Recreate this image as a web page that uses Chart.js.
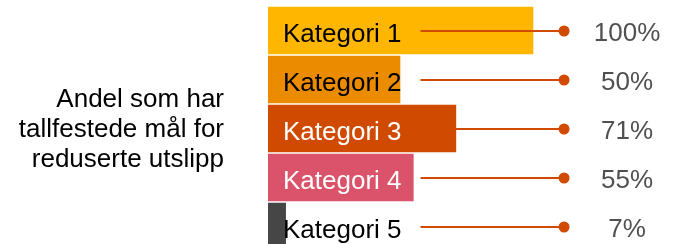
<!DOCTYPE html>
<html>
<head>
<meta charset="utf-8">
<script src="https://cdn.jsdelivr.net/npm/chart.js@4"></script>
<style>
  html, body { margin: 0; padding: 0; background: #fff; overflow: hidden; }
</style>
</head>
<body>
<canvas id="chart" width="673" height="251"></canvas>
<script>
  const categories = ["Kategori 1", "Kategori 2", "Kategori 3", "Kategori 4", "Kategori 5"];
  const shares = [100, 50, 71, 55, 7];
  const shareLabels = ["100%", "50%", "71%", "55%", "7%"];
  const titleLines = ["Andel som har", "tallfestede mål for", "reduserte utslipp"];

  const barColors = ["#FFB600", "#EB8C00", "#D04A02", "#DB536A", "#464646"];
  const nameColors = ["#000000", "#000000", "#ffffff", "#ffffff", "#000000"];
  const leaderColor = "#D04A02";
  const FONT = '"Liberation Sans", Arial, sans-serif';
  const DOT_AT = 111.3;   // in x-scale units, past the 100% end
  const PCT_AT = 135;

  const overlay = {
    id: "overlay",
    afterDatasetsDraw(chart) {
      const ctx = chart.ctx;
      const xs = chart.scales.x;
      const ys = chart.scales.y;
      const x0 = xs.getPixelForValue(0);
      ctx.save();
      ctx.font = "26px " + FONT;
      ctx.textBaseline = "alphabetic";

      categories.forEach((name, i) => {
        const y = ys.getPixelForValue(i);
        const tx = x0 + 15;
        const w = ctx.measureText(name).width;

        // leader line + dot
        const dotX = xs.getPixelForValue(DOT_AT);
        ctx.strokeStyle = leaderColor;
        ctx.lineWidth = 2;
        ctx.beginPath();
        ctx.moveTo(tx + w + 19, y + 0.5);
        ctx.lineTo(dotX, y + 0.5);
        ctx.stroke();
        ctx.fillStyle = leaderColor;
        ctx.beginPath();
        ctx.arc(dotX, y + 0.5, 5.5, 0, Math.PI * 2);
        ctx.fill();

        // category name inside bar
        ctx.fillStyle = nameColors[i];
        ctx.textAlign = "left";
        ctx.fillText(name, tx, y + 11.5);

        // percentage
        ctx.fillStyle = "#505050";
        ctx.textAlign = "center";
        ctx.fillText(shareLabels[i], xs.getPixelForValue(PCT_AT), y + 10.5);
      });

      // title on the left
      ctx.fillStyle = "#000000";
      ctx.textAlign = "right";
      const mid = ys.getPixelForValue(2);
      titleLines.forEach((line, k) => {
        ctx.fillText(line, x0 - 44, mid + 8.5 + (k - 1) * 30);
      });
      ctx.restore();
    }
  };

  new Chart(document.getElementById("chart"), {
    type: "bar",
    data: {
      labels: categories,
      datasets: [{
        data: shares,
        backgroundColor: barColors,
        borderColor: "rgba(255,255,255,0.45)",
        borderWidth: 1,
        barPercentage: 1,
        categoryPercentage: 1
      }]
    },
    options: {
      indexAxis: "y",
      responsive: false,
      animation: false,
      devicePixelRatio: 1,
      layout: { padding: { left: 268, right: 139, top: 6, bottom: 0 } },
      plugins: { legend: { display: false }, tooltip: { enabled: false } },
      scales: {
        x: { display: false, min: 0, max: 100 },
        y: { display: false }
      }
    },
    plugins: [overlay]
  });
</script>
</body>
</html>
